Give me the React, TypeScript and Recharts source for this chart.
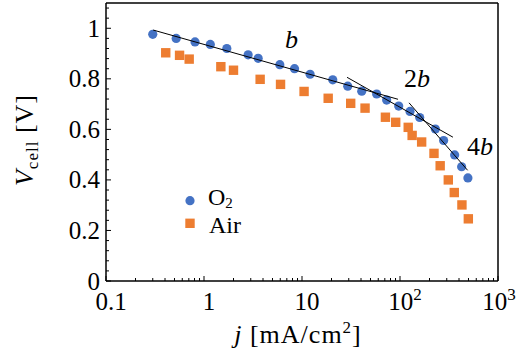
import { ComposedChart, Scatter, XAxis, YAxis, ReferenceLine } from 'recharts';

// O2 polarization curve
const o2J = [0.3, 0.52, 0.81, 1.16, 1.71, 2.82, 3.57, 5.94, 8.39, 12.1, 20.6, 29.3, 40.7, 57.8, 73.1, 97, 126.5, 158.8, 229.6, 278.6, 361, 425.6, 493];
const o2V = [0.976, 0.96, 0.946, 0.936, 0.92, 0.895, 0.881, 0.856, 0.84, 0.818, 0.796, 0.771, 0.751, 0.74, 0.716, 0.692, 0.671, 0.647, 0.601, 0.556, 0.499, 0.452, 0.408];

// Air polarization curve
const airJ = [0.407, 0.563, 0.706, 1.486, 2.0, 3.74, 6.04, 10.5, 18.5, 31.4, 44.0, 71.0, 90.4, 121.3, 133, 166.3, 222.3, 257, 311, 358, 428.5, 498];
const airV = [0.903, 0.893, 0.878, 0.848, 0.834, 0.798, 0.778, 0.75, 0.723, 0.703, 0.684, 0.648, 0.628, 0.608, 0.576, 0.55, 0.505, 0.456, 0.4, 0.35, 0.301, 0.246];

// Tafel slope guide lines (end points)
const tafelBJ = [0.303, 95.5];
const tafelBV = [0.993, 0.719];
const tafel2bJ = [28.8, 347];
const tafel2bV = [0.806, 0.569];
const tafel4bJ = [123.6, 490];
const tafel4bV = [0.705, 0.438];

const xMajor = [0.1, 1, 10, 100, 1000];
const xMinorMult = [2, 3, 4, 5, 6, 7, 8, 9];
const yMajor = [0, 0.2, 0.4, 0.6, 0.8, 1];
const yMinorStep = 0.04;

const BLUE = '#4472C4';
const ORANGE = '#ED7D31';
const FONT = '"Liberation Serif", "Times New Roman", serif';

const pts = (js: number[], vs: number[]) => js.map((j, i) => ({ j, v: vs[i] }));

const xTicks = [
  ...xMajor,
  ...xMajor.slice(0, 4).flatMap((d) => xMinorMult.map((m) => +(d * m).toPrecision(3))),
].sort((a, b) => a - b);
const yTicks = Array.from({ length: 28 }, (_, i) => +(i * yMinorStep).toFixed(2));

function xLabel(v: number) {
  if (v === 100) return (<><tspan>10</tspan><tspan dy={-10} fontSize={17}>2</tspan></>);
  if (v === 1000) return (<><tspan>10</tspan><tspan dy={-10} fontSize={17}>3</tspan></>);
  return String(v);
}

function XTick(props: any) {
  const { x, y, payload } = props;
  const major = xMajor.includes(payload.value);
  const dx = payload.value === 1000 ? 1 : 5;
  return (
    <g>
      <line x1={x} x2={x} y1={y} y2={y - (major ? 5 : 3)} stroke="#000" strokeWidth={1} />
      {major && (
        <text x={x + dx} y={y + 29} textAnchor="middle" fontSize={25} fontFamily={FONT} fill="#000">
          {xLabel(payload.value)}
        </text>
      )}
    </g>
  );
}

function YTick(props: any) {
  const { x, y, payload } = props;
  const major = yMajor.some((m) => Math.abs(m - payload.value) < 1e-6);
  return (
    <g>
      <line x1={x} x2={x + (major ? 5 : 3)} y1={y} y2={y} stroke="#000" strokeWidth={1} />
      {major && (
        <text x={x - 6} y={y + 8.5} textAnchor="end" fontSize={25} fontFamily={FONT} fill="#000">
          {String(payload.value)}
        </text>
      )}
    </g>
  );
}

const circle = (p: any) => <circle cx={p.cx} cy={p.cy} r={4.6} fill={BLUE} />;
const square = (p: any) => <rect x={p.cx - 4.7} y={p.cy - 4.7} width={9.4} height={9.4} fill={ORANGE} />;
const none = () => <g />;

export default function App() {
  return (
    <div style={{ position: 'absolute', left: 0, top: 0, width: 517, height: 355, background: '#fff' }}>
      <ComposedChart width={517} height={355} margin={{ top: 3, right: 19, left: 0, bottom: 0 }}>
        <XAxis
          dataKey="j"
          type="number"
          scale="log"
          domain={[0.1, 1000]}
          allowDataOverflow
          ticks={xTicks}
          interval={0}
          height={74}
          tickSize={0}
          tickMargin={0}
          tick={<XTick />}
          axisLine={{ stroke: '#000', strokeWidth: 1.5 }}
        />
        <YAxis
          dataKey="v"
          type="number"
          domain={[0, 1.1]}
          allowDataOverflow
          ticks={yTicks}
          interval={0}
          width={106}
          tickSize={0}
          tickMargin={0}
          tick={<YTick />}
          axisLine={{ stroke: '#000', strokeWidth: 1.5 }}
        />
        <ReferenceLine y={1.1} stroke="#000" strokeWidth={1.5} />
        <ReferenceLine x={1000} stroke="#000" strokeWidth={1.5} />
        <Scatter data={pts(airJ, airV)} shape={square} isAnimationActive={false} />
        <Scatter data={pts(o2J, o2V)} shape={circle} isAnimationActive={false} />
        <Scatter data={pts(tafelBJ, tafelBV)} shape={none} line={{ stroke: '#000', strokeWidth: 1 }} isAnimationActive={false} />
        <Scatter data={pts(tafel2bJ, tafel2bV)} shape={none} line={{ stroke: '#000', strokeWidth: 1 }} isAnimationActive={false} />
        <Scatter data={pts(tafel4bJ, tafel4bV)} shape={none} line={{ stroke: '#000', strokeWidth: 1 }} isAnimationActive={false} />
      </ComposedChart>
      <svg
        width={517}
        height={355}
        style={{ position: 'absolute', left: 0, top: 0, pointerEvents: 'none' }}
        fontFamily={FONT}
        fontSize={26}
        fill="#000"
      >
        <text x={285} y={48} fontStyle="italic">b</text>
        <text x={404} y={87}>2<tspan fontStyle="italic">b</tspan></text>
        <text x={467} y={155}>4<tspan fontStyle="italic">b</tspan></text>

        <circle cx={190} cy={200.7} r={4.6} fill={BLUE} />
        <text x={208} y={205} fontSize={24}>O<tspan dy={3} fontSize={15}>2</tspan></text>
        <rect x={185.3} y={218.6} width={9.4} height={9.4} fill={ORANGE} />
        <text x={209} y={233} fontSize={24}>Air</text>

        <text x={298} y={343} textAnchor="middle" letterSpacing={1}>
          <tspan fontStyle="italic">j</tspan> [mA/cm<tspan dy={-10} fontSize={17}>2</tspan><tspan dy={10}>]</tspan>
        </text>
        <text x={33} y={140} textAnchor="middle" transform="rotate(-90 33 140)" letterSpacing={1}>
          <tspan fontStyle="italic">V</tspan><tspan dy={5} fontSize={17}>cell</tspan><tspan dy={-5}> [V]</tspan>
        </text>
      </svg>
    </div>
  );
}
